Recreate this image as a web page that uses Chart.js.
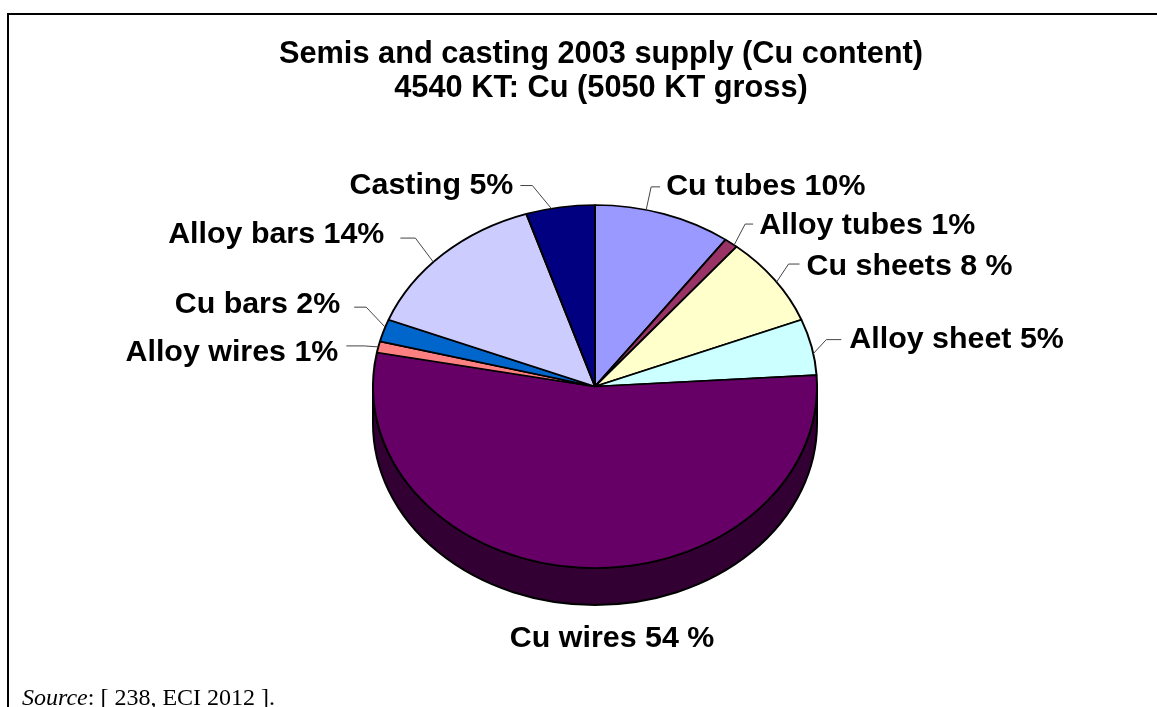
<!DOCTYPE html>
<html>
<head>
<meta charset="utf-8">
<title>Semis and casting 2003 supply</title>
<script src="https://cdn.jsdelivr.net/npm/chart.js@4"></script>
<style>
    html, body { margin: 0; padding: 0; background: #fff; overflow: hidden; }
    #page { position: relative; width: 1157px; height: 707px; overflow: hidden; }
    #frame { position: absolute; left: 7px; top: 13px; right: 0; bottom: 0; border-left: 2px solid #000; border-top: 2px solid #000; }
    #pie { position: absolute; left: 0; top: 0; }
    #source { position: absolute; left: 22px; top: 684px; font: 24px "Liberation Serif", serif; color: #000; white-space: nowrap; }
</style>
</head>
<body>
<div id="page">
    <div id="frame"></div>
    <canvas id="pie" width="1157" height="707"></canvas>
    <div id="source"><i>Source</i>: [ 238, ECI 2012 ].</div>
</div>
<script>
const titleLines = ['Semis and casting 2003 supply (Cu content)', '4540 KT: Cu (5050 KT gross)'];
const categories = ['Cu tubes', 'Alloy tubes', 'Cu sheets', 'Alloy sheet', 'Cu wires', 'Alloy wires', 'Cu bars', 'Alloy bars', 'Casting'];
const shares = [10, 1, 8, 5, 54, 1, 2, 14, 5];
const sliceLabels = ['Cu tubes 10%', 'Alloy tubes 1%', 'Cu sheets 8 %', 'Alloy sheet 5%', 'Cu wires 54 %', 'Alloy wires 1%', 'Cu bars 2%', 'Alloy bars 14%', 'Casting 5%'];
const sliceColors = ['#9999ff', '#993366', '#ffffcc', '#ccffff', '#660066', '#ff8080', '#0066cc', '#ccccff', '#000080'];

// pie is drawn round by the library, then squashed and given a rim
const squash = 181.5 / 222;
const rimDepth = 37;

// callouts: where on the slice edge, elbow offset, tail length, gap to text, text shift
const callouts = [
    { at: 0.37, dx: 5, dy: -23, tail: 9, gap: 6, side: 1, textDy: 0 },
    { at: 0.78, dx: 11, dy: -21, tail: 8, gap: 6, side: 1, textDy: 2 },
    { at: 0.53, dx: 12, dy: -18, tail: 11, gap: 7, side: 1, textDy: 3 },
    { at: 0.62, dx: 13, dy: -14, tail: 15, gap: 8, side: 1, textDy: 0 },
    { at: 0.5, dx: 31, dy: 71, tail: 0, gap: 0, side: 0, textDy: 0 },
    { at: 0.5, dx: -14, dy: -1, tail: 18, gap: 8, side: -1, textDy: 7 },
    { at: 0.65, dx: -19, dy: -20, tail: 12, gap: 14, side: -1, textDy: -3 },
    { at: 0.43, dx: -18, dy: -24, tail: 15, gap: 16, side: -1, textDy: -3 },
    { at: 0.37, dx: -19, dy: -23, tail: 12, gap: 7, side: -1, textDy: 0 }
];

function halve(hex) {
    const n = parseInt(hex.slice(1), 16);
    return 'rgb(' + (n >> 17 & 127) + ',' + (n >> 9 & 127) + ',' + (n >> 1 & 127) + ')';
}

const tiltPlugin = {
    id: 'tilt',
    afterLayout(chart) {
        // title is wider than the pie and sits slightly right of its centre
        chart.titleBlock.left = 45;
        chart.titleBlock.right = 1157;
    },
    beforeDatasetsDraw(chart) {
        const ctx = chart.ctx;
        const arcs = chart.getDatasetMeta(0).data;
        ctx.save();
        arcs.forEach((arc, i) => {
            const a = Math.max(arc.startAngle, 0);
            const b = Math.min(arc.endAngle, Math.PI);
            if (b <= a) return;
            const ry = arc.outerRadius * squash;
            ctx.beginPath();
            ctx.ellipse(arc.x, arc.y, arc.outerRadius, ry, 0, a, b);
            ctx.ellipse(arc.x, arc.y + rimDepth, arc.outerRadius, ry, 0, b, a, true);
            ctx.closePath();
            ctx.fillStyle = halve(sliceColors[i]);
            ctx.fill();
            ctx.lineWidth = 2;
            ctx.strokeStyle = '#000';
            ctx.stroke();
        });
        ctx.restore();

        const c = arcs[0];
        ctx.save();
        ctx.translate(c.x, c.y);
        ctx.scale(1, squash);
        ctx.translate(-c.x, -c.y);
    },
    afterDatasetsDraw(chart) {
        chart.ctx.restore();
    },
    afterDraw(chart) {
        const ctx = chart.ctx;
        ctx.save();
        ctx.font = 'bold 30.4px "Liberation Sans", Arial, sans-serif';
        ctx.fillStyle = '#000';
        ctx.textBaseline = 'middle';
        chart.getDatasetMeta(0).data.forEach((arc, i) => {
            const c = callouts[i];
            const t = arc.startAngle + (arc.endAngle - arc.startAngle) * c.at;
            const px = arc.x + arc.outerRadius * Math.cos(t);
            const py = arc.y + arc.outerRadius * squash * Math.sin(t);
            const ex = px + c.dx;
            const ey = py + c.dy;
            const tx = ex + c.side * c.tail;
            if (c.tail > 0) {
                ctx.beginPath();
                ctx.moveTo(px, py);
                ctx.lineTo(ex, ey);
                ctx.lineTo(tx, ey);
                ctx.lineWidth = 1;
                ctx.strokeStyle = '#444';
                ctx.stroke();
            }
            ctx.textAlign = c.side > 0 ? 'left' : c.side < 0 ? 'right' : 'center';
            ctx.fillText(sliceLabels[i], tx + c.side * c.gap, ey + c.textDy);
        });
        ctx.restore();
    }
};

new Chart(document.getElementById('pie'), {
    type: 'pie',
    data: {
        labels: categories,
        datasets: [{
            label: 'Share of supply (%)',
            data: shares,
            backgroundColor: sliceColors,
            borderColor: '#000',
            borderWidth: 2
        }]
    },
    options: {
        responsive: false,
        animation: false,
        layout: { padding: { left: 372, right: 339, top: 0, bottom: 97.5 } },
        plugins: {
            legend: { display: false },
            tooltip: { enabled: false },
            title: {
                display: true,
                text: titleLines,
                color: '#000',
                font: { family: '"Liberation Sans", Arial, sans-serif', size: 30.75, weight: 'bold', lineHeight: 34 / 30.75 },
                padding: { top: 38, bottom: 57.5 }
            }
        }
    },
    plugins: [tiltPlugin]
});
</script>
</body>
</html>
